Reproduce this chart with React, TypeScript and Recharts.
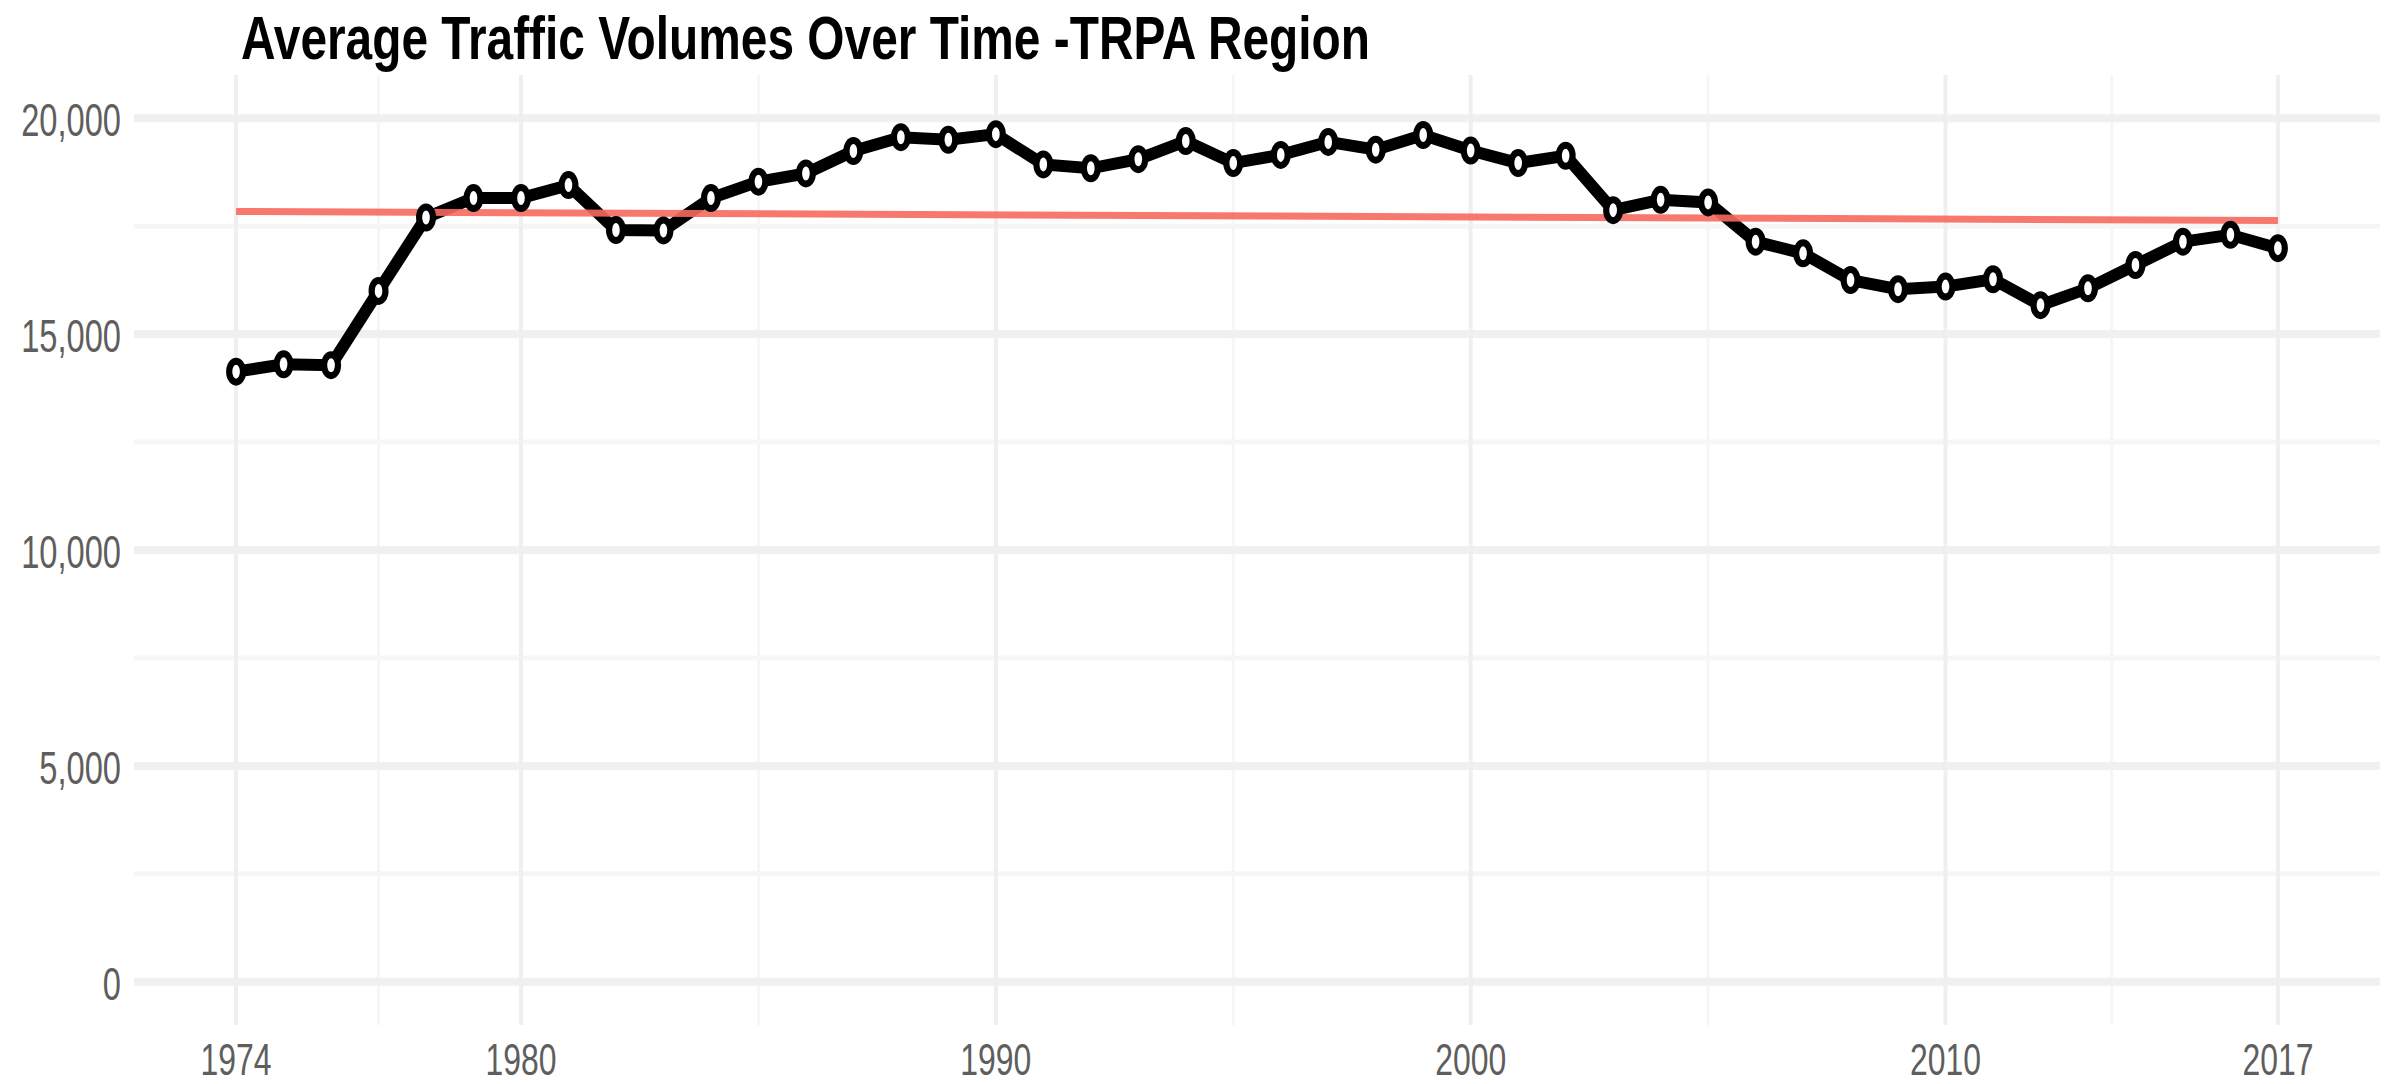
import React from 'react';
import { LineChart, Line, XAxis, YAxis, CartesianGrid, ReferenceLine } from 'recharts';

// Average traffic volumes, TRPA region
const years = [
  1974, 1975, 1976, 1977, 1978, 1979, 1980, 1981, 1982, 1983, 1984,
  1985, 1986, 1987, 1988, 1989, 1990, 1991, 1992, 1993, 1994, 1995,
  1996, 1997, 1998, 1999, 2000, 2001, 2002, 2003, 2004, 2005, 2006,
  2007, 2008, 2009, 2010, 2011, 2012, 2013, 2014, 2015, 2016, 2017,
];
const volumes = [
  14130, 14300, 14280, 16000, 17700, 18150, 18150, 18450, 17410, 17400, 18150,
  18530, 18720, 19240, 19560, 19500, 19630, 18930, 18840, 19050, 19470, 18960,
  19150, 19450, 19270, 19610, 19250, 18960, 19130, 17870, 18110, 18050, 17140,
  16870, 16250, 16040, 16100, 16270, 15670, 16060, 16600, 17140, 17300, 16990,
];

// linear trend end points
const trendYears = [1974, 2017];
const trendValues = [17840, 17630];

const xTicks = [1974, 1980, 1990, 2000, 2010, 2017];
const xMinorTicks = [1977, 1985, 1995, 2005, 2013.5];
const yTicks = [0, 5000, 10000, 15000, 20000];
const yMinorTicks = [2500, 7500, 12500, 17500];

const data = years.map((year, i) => ({ year, volume: volumes[i] }));

const tickFont = "'Liberation Sans', Arial, sans-serif";
const tickColor = '#5e5e5e';

const XTick = ({ x, y, payload }: any) => (
  <g transform={`translate(${x},${y + 50}) scale(0.71,1)`}>
    <text x={0} y={0} textAnchor="middle" fill={tickColor} fontSize={45} fontFamily={tickFont}>
      {payload.value}
    </text>
  </g>
);

const YTick = ({ x, y, payload }: any) => (
  <g transform={`translate(${x - 13},${y + 18}) scale(0.71,1)`}>
    <text x={0} y={0} textAnchor="end" fill={tickColor} fontSize={46} fontFamily={tickFont}>
      {Number(payload.value).toLocaleString('en-US')}
    </text>
  </g>
);

const renderDot = (props: any) => {
  const { cx, cy, index } = props;
  if (cx == null || cy == null) return <g key={index} />;
  return (
    <g key={index}>
      <ellipse cx={cx} cy={cy} rx={10} ry={14} fill="#000" />
      <ellipse cx={cx} cy={cy} rx={3.8} ry={7} fill="#fff" />
    </g>
  );
};

export default function App() {
  return (
    <div style={{ position: 'absolute', left: 0, top: 0, width: 2386, height: 1084, background: '#fff' }}>
      <LineChart
        width={2386}
        height={1084}
        data={data}
        margin={{ top: 75, right: 6, bottom: 0, left: 0 }}
      >
        <XAxis
          dataKey="year"
          type="number"
          domain={[1971.85, 2019.15]}
          allowDataOverflow
          ticks={xTicks}
          axisLine={false}
          tickLine={false}
          tickSize={0}
          tickMargin={0}
          height={59}
          tick={<XTick />}
          interval={0}
        />
        <YAxis
          type="number"
          domain={[-1000, 21000]}
          allowDataOverflow
          ticks={yTicks}
          axisLine={false}
          tickLine={false}
          tickSize={0}
          tickMargin={0}
          width={134}
          tick={<YTick />}
          interval={0}
        />
        <CartesianGrid
          vertical={false}
          horizontalValues={yMinorTicks}
          syncWithTicks
          stroke="#f6f6f6"
          strokeWidth={5}
        />
        <CartesianGrid
          horizontal={false}
          verticalValues={xMinorTicks}
          syncWithTicks
          stroke="#f6f6f6"
          strokeWidth={3}
        />
        <CartesianGrid
          vertical={false}
          horizontalValues={yTicks}
          syncWithTicks
          stroke="#f0f0f0"
          strokeWidth={8}
        />
        <CartesianGrid
          horizontal={false}
          verticalValues={xTicks}
          syncWithTicks
          stroke="#efefef"
          strokeWidth={4}
        />
        <Line
          dataKey="volume"
          stroke="#000"
          strokeWidth={12}
          dot={renderDot}
          activeDot={false}
          isAnimationActive={false}
        />
        <ReferenceLine
          segment={[
            { x: trendYears[0], y: trendValues[0] },
            { x: trendYears[1], y: trendValues[1] },
          ]}
          stroke="#f5695e"
          strokeOpacity={0.9}
          strokeWidth={7}
        />
      </LineChart>
      <svg
        width={2386}
        height={90}
        style={{ position: 'absolute', left: 0, top: 0, pointerEvents: 'none' }}
      >
        <text
          x={241}
          y={59}
          fontSize={62}
          fontWeight={700}
          fontFamily="'Liberation Sans Narrow', 'Liberation Sans', Arial, sans-serif"
          fill="#000"
          textLength={1129}
          lengthAdjust="spacingAndGlyphs"
        >
          Average Traffic Volumes Over Time -TRPA Region
        </text>
      </svg>
    </div>
  );
}
